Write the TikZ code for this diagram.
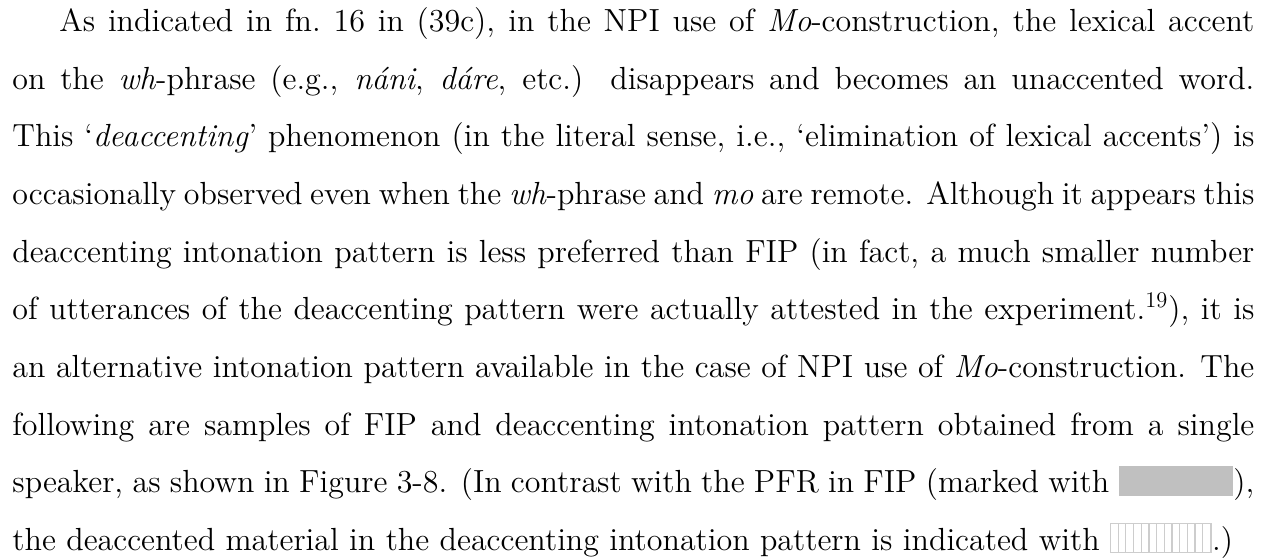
\documentclass[tikz,border=0pt]{standalone}
\usepackage{fontspec}
\setmainfont{lmroman12-regular.otf}[Ligatures=TeX, ItalicFont=lmroman12-italic.otf, BoldFont=lmroman12-bold.otf]
\usepackage{xcolor}
\definecolor{pfrgray}{RGB}{192,192,192}
\definecolor{hatchgray}{RGB}{205,205,205}
\newcommand{\pfrbox}{\textcolor{pfrgray}{\rule[-1.5pt]{57.5pt}{15pt}}}
\newcommand{\hatchbox}{{\color{hatchgray}\fboxsep0pt\fboxrule0.5pt\fbox{\hbox to 50pt{\rule[-1pt]{0pt}{14pt}\xleaders\hbox to 3.8pt{\hss\rule[-1pt]{0.6pt}{14pt}}\hfill}}}}
\tikzset{para/.style={anchor=north west, inner sep=0pt, text width=621pt, align=justify,
  font=\fontsize{16}{28.83}\selectfont}}
\begin{document}
\begin{tikzpicture}
\useasboundingbox (0,0) rectangle (635pt,-279.5pt);
\node[para] (p) at (6pt,-2.5pt) {\rule{0pt}{13pt}\hspace*{23.5pt}As indicated in fn.\ 16 in (39c), in the NPI use of \textit{Mo}-construction, the lexical accent\linebreak
on the \textit{wh}-phrase (e.g., \textit{náni}, \textit{dáre}, etc.) disappears and becomes an unaccented word.\linebreak
This `\textit{deaccenting}' phenomenon (in the literal sense, i.e., `elimination of lexical accents') is\linebreak
occasionally observed even when the \textit{wh}-phrase and \textit{mo} are remote. Although it appears this\linebreak
deaccenting intonation pattern is less preferred than FIP (in fact, a much smaller number\linebreak
of utterances of the deaccenting pattern were actually attested in the experiment.\textsuperscript{19}), it is\linebreak
an alternative intonation pattern available in the case of NPI use of \textit{Mo}-construction. The\linebreak
following are samples of FIP and deaccenting intonation pattern obtained from a single\linebreak
speaker, as shown in Figure 3-8. (In contrast with the PFR in FIP (marked with \pfrbox),\linebreak
the deaccented material in the deaccenting intonation pattern is indicated with \hatchbox.)\par};
\end{tikzpicture}
\end{document}
